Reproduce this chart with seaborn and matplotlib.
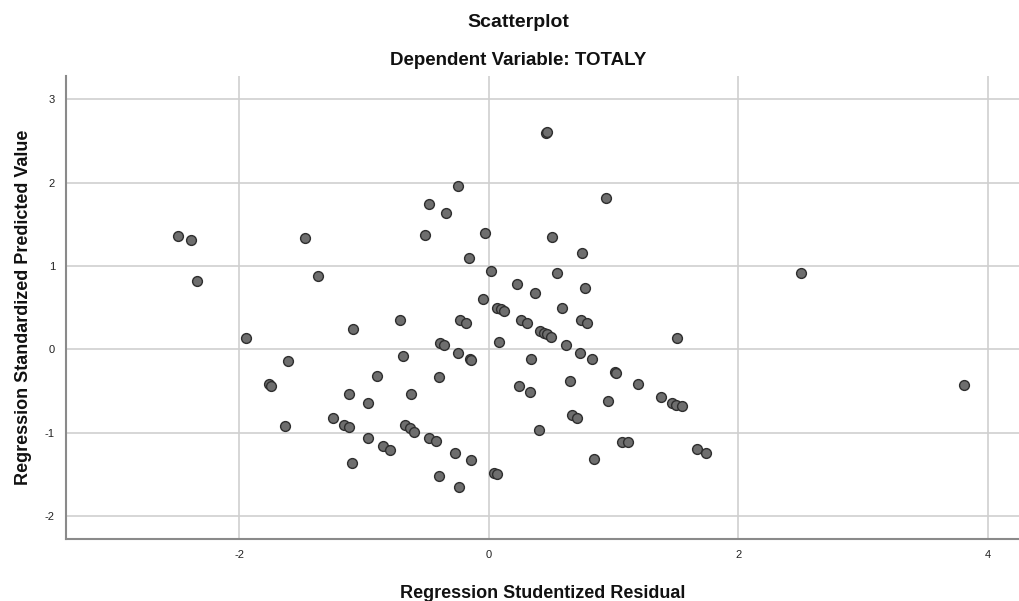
import matplotlib.pyplot as plt
import seaborn as sns
import pandas as pd

# studentized residual (x) vs standardized predicted value (y)
resid = [-2.49, -2.39, -2.34, -1.47, -1.37,
         0.46, 0.47, -0.25, -0.48, -0.34, 0.94, -0.51, -0.03, 0.51, 0.75,
         -0.16, 0.02, 0.55, 0.23, 0.77, 0.37, -0.05, 0.07, 0.10, 0.12, 0.59,
         -0.71, -0.23, -0.18, 0.26, 0.31, 0.74, 0.79,
         0.41, 0.44, 0.47, 0.50, 1.51, -0.39, -0.36, 0.08, 0.62,
         -0.69, -0.25, -0.15, -0.14, 0.34, 0.73, 0.83, 1.01, 1.02, 1.20,
         -0.40, 0.65, 0.24, 0.33, -0.62, 0.96, 1.38, 1.47, 1.50, 1.55,
         0.67, 0.71, -0.67, -0.63, -0.60, 0.40, -0.48, -0.42, 1.07, 1.12,
         -0.85, -0.79, -0.27, -0.14, 0.84, 1.67, 1.74, 0.04, 0.07, -0.40, -0.24,
         -1.95, -1.09, -1.61, -1.76, -1.75, -0.90, -1.12, -0.97, -1.25,
         -1.16, -1.12, -1.63, -0.97, -1.10,
         2.50, 3.81]
pred = [1.36, 1.31, 0.82, 1.34, 0.88,
        2.60, 2.61, 1.96, 1.75, 1.64, 1.82, 1.37, 1.39, 1.35, 1.16,
        1.09, 0.94, 0.92, 0.78, 0.73, 0.67, 0.60, 0.50, 0.48, 0.46, 0.49,
        0.35, 0.35, 0.31, 0.35, 0.31, 0.35, 0.32,
        0.22, 0.20, 0.18, 0.15, 0.14, 0.07, 0.05, 0.09, 0.05,
        -0.08, -0.04, -0.12, -0.13, -0.12, -0.04, -0.12, -0.27, -0.28, -0.42,
        -0.33, -0.38, -0.44, -0.51, -0.54, -0.62, -0.57, -0.65, -0.67, -0.68,
        -0.79, -0.82, -0.91, -0.94, -0.99, -0.97, -1.06, -1.10, -1.11, -1.11,
        -1.16, -1.21, -1.24, -1.33, -1.32, -1.20, -1.24, -1.48, -1.50, -1.52, -1.65,
        0.14, 0.24, -0.14, -0.42, -0.44, -0.32, -0.54, -0.65, -0.82,
        -0.91, -0.93, -0.92, -1.06, -1.36,
        0.92, -0.43]

df = pd.DataFrame({"resid": resid, "pred": pred})

sns.set_theme(style="whitegrid")
plt.rcParams['font.family'] = ['Liberation Sans', 'DejaVu Sans']
plt.rcParams['axes.unicode_minus'] = False

fig = plt.figure(figsize=(10.2, 6.01), dpi=100)
ax = fig.add_axes([0.0647, 0.1027, 0.9353, 0.7708])

sns.scatterplot(data=df, x="resid", y="pred", ax=ax, s=50,
                color="#6e6e6e", edgecolor="#2e2e2e", linewidth=1, zorder=3)

ax.set_xlim(-3.39, 4.26)
ax.set_ylim(-2.28, 3.28)
ax.set_xticks([-2, 0, 2, 4])
ax.set_yticks([-2, -1, 0, 1, 2, 3])
ax.tick_params(labelsize=8, colors="#222222", length=0, pad=8)
ax.grid(True, color="#cfcfcf", linewidth=1.2)
ax.set_facecolor("white")
for side in ["top", "right"]:
    ax.spines[side].set_visible(False)
for side in ["left", "bottom"]:
    ax.spines[side].set_visible(True)
    ax.spines[side].set_color("#8a8a8a")
    ax.spines[side].set_linewidth(1.5)

ax.set_xlabel("Regression Studentized Residual", fontsize=13, fontweight="bold",
              color="#111111", labelpad=18)
ax.set_ylabel("Regression Standardized Predicted Value", fontsize=13,
              fontweight="bold", color="#111111", labelpad=9)

fig.text(0.508, 0.963, "Scatterplot", ha="center", va="center", fontsize=14,
         fontweight="bold", color="#111111")
fig.text(0.508, 0.9, "Dependent Variable: TOTALY", ha="center", va="center",
         fontsize=13.5, fontweight="bold", color="#111111")

fig.savefig("out.png", dpi=100, facecolor="white")
